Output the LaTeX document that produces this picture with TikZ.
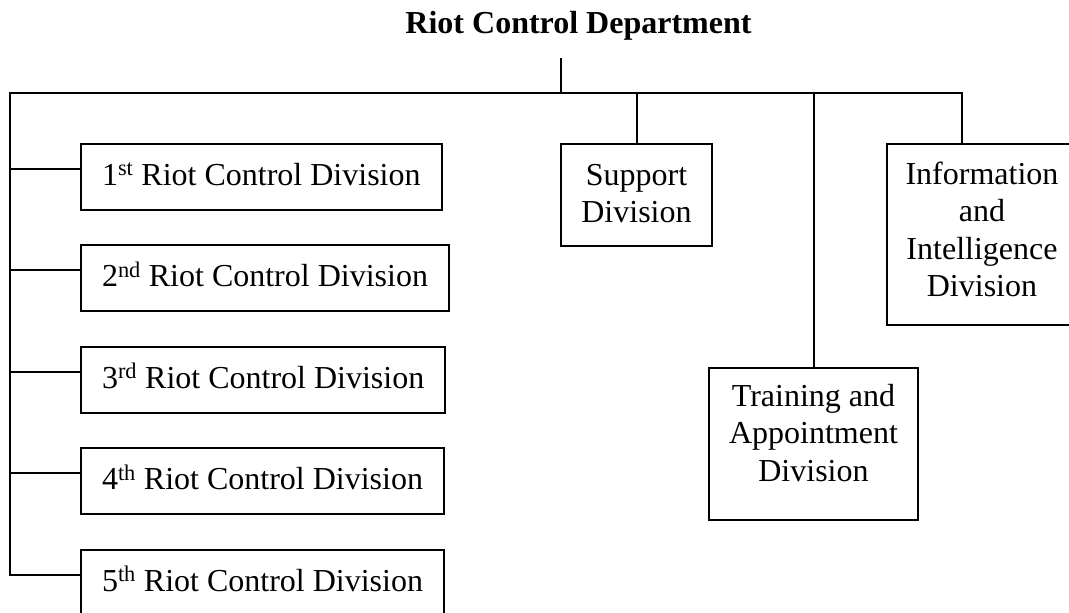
\documentclass[tikz,border=0pt]{standalone}
\usepackage{fontspec}
\setmainfont{Liberation Serif}
\usetikzlibrary{positioning}

\begin{document}
\begin{tikzpicture}[x=1pt,y=1pt,node distance=35.5pt]
	\tikzstyle{line} = [line width=2pt]
	\tikzstyle{div} = [draw, line width=2pt, outer sep=0pt, inner xsep=21pt, inner ysep=0pt, text height=41.5pt, text depth=24.5pt, font=\fontsize{32}{37.5}\selectfont]
	\tikzstyle{sec} = [draw, line width=2pt, outer sep=0pt, inner sep=0pt, anchor=north west, font=\fontsize{32}{37.5}\selectfont]
	\useasboundingbox (0,0) rectangle (1069,-613);
	\clip (0,0) rectangle (1069,-613);
	\node(head)[anchor=base, font=\fontsize{32}{37.5}\selectfont\bfseries] at (578.5,-33) {Riot Control Department};
	% left column
	\node(d1)[div, anchor=north west] at (81,-143.5) {1\textsuperscript{st} Riot Control Division};
	\node(d2)[div, below=of d1.south west, anchor=north west] {2\textsuperscript{nd} Riot Control Division};
	\node(d3)[div, below=of d2.south west, anchor=north west] {3\textsuperscript{rd} Riot Control Division};
	\node(d4)[div, below=of d3.south west, anchor=north west] {4\textsuperscript{th} Riot Control Division};
	\node(d5)[div, below=of d4.south west, anchor=north west] {5\textsuperscript{th} Riot Control Division};
	% right part
	\node(sup)[sec, text height=41pt, text depth=61pt] at (561,-144) {\parbox[t]{151pt}{\centering Support\\Division}};
	\node(trn)[sec, text height=38pt, text depth=114pt] at (709,-368) {\parbox[t]{209pt}{\centering Training and\\Appointment\\Division}};
	\node(inf)[sec, text height=40pt, text depth=141pt] at (887,-144) {\parbox[t]{190pt}{\centering Information\\and\\Intelligence\\Division}};
	\coordinate (top) at (561,-58);
	\coordinate (hl) at (9.5,-93);
	\coordinate (hr) at (962,-93);
	\draw[line](top) -- (top |- hl);
	\draw[line]([yshift=8pt]d5.west) -| (hl) -- (hr) -- (hr |- inf.north);
	\foreach \n in {d1,d2,d3,d4}
		\draw[line](hl) |- ([yshift=8pt]\n.west);
	\draw[line](sup.north) -- (sup.north |- hl);
	\draw[line](trn.north) -- (trn.north |- hl);
\end{tikzpicture}
\end{document}
